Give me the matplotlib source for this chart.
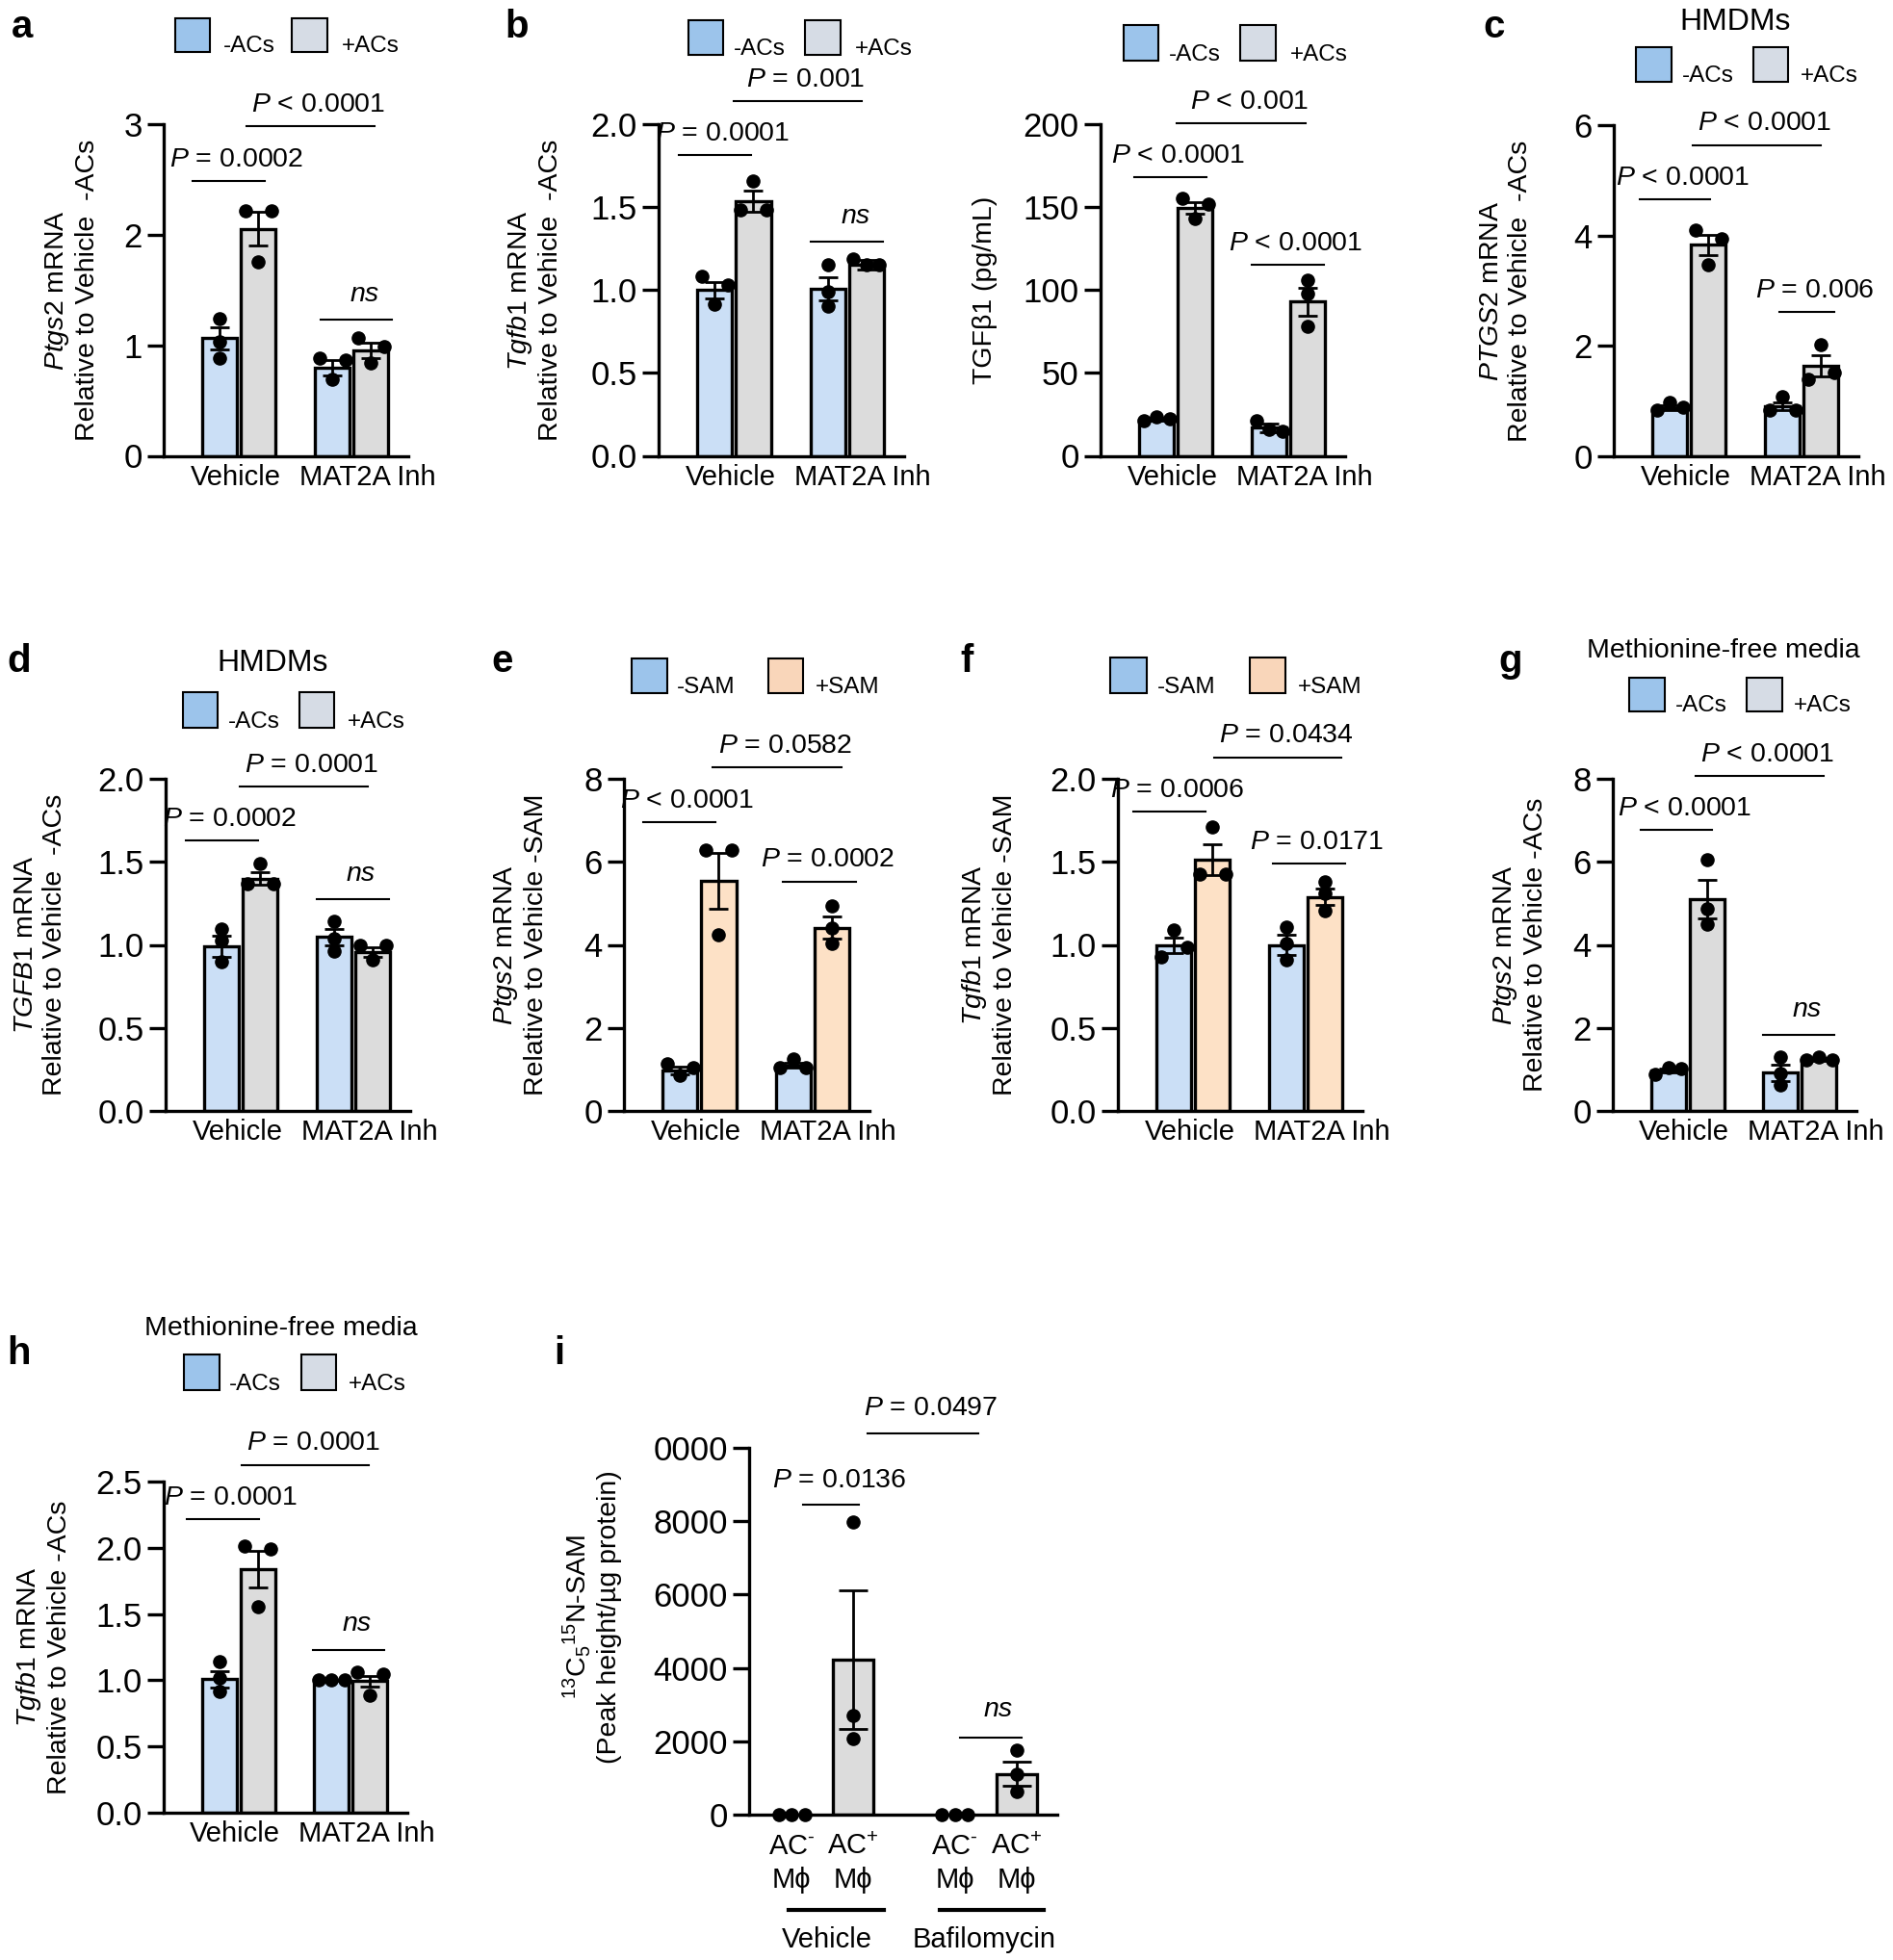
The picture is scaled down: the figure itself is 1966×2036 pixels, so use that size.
# coding=utf-8
"""
Bar charts (mean +- SEM with single points) for the MAT2A / SAM figure.
"""

import numpy as np
import matplotlib
matplotlib.use('Agg')
import matplotlib.pyplot as plt
from matplotlib.patches import Rectangle
from matplotlib import transforms

# Fuentes
plt.rcParams['font.family'] = ['Liberation Sans', 'DejaVu Sans']
plt.rcParams['mathtext.fontset'] = 'custom'
plt.rcParams['mathtext.rm'] = 'Liberation Sans'
plt.rcParams['mathtext.it'] = 'Liberation Sans:italic'
plt.rcParams['mathtext.bf'] = 'Liberation Sans:bold'

# ---------------------------------------------------------------- data
groups = ['Vehicle', 'MAT2A Inh']
acs_labels = ['-ACs', '+ACs']
sam_labels = ['-SAM', '+SAM']

# bar order: Vehicle (-), Vehicle (+), MAT2A Inh (-), MAT2A Inh (+)
a_mean = [1.065, 2.055, 0.795, 0.955]
a_sem = [0.10, 0.15, 0.07, 0.07]
a_pts = [[1.245, 1.035, 0.885], [2.22, 1.755, 2.22], [0.885, 0.69, 0.87], [1.065, 0.84, 0.985]]
a_p = ['= 0.0002', '< 0.0001', 'ns']

b_mean = [1.0, 1.535, 1.007, 1.153]
b_sem = [0.05, 0.065, 0.07, 0.03]
b_pts = [[1.083, 0.913, 1.033], [1.485, 1.659, 1.485], [1.15, 0.99, 0.90], [1.19, 1.15, 1.155]]
b_p = ['= 0.0001', '= 0.001', 'ns']

tgf_mean = [22, 149.4, 17, 93]
tgf_sem = [0.8, 3.5, 2.5, 8.5]
tgf_pts = [[21, 23.5, 22.6], [155.4, 143, 152], [21, 16, 15], [106, 98, 78]]
tgf_p = ['< 0.0001', '< 0.001', '< 0.0001']

c_mean = [0.876, 3.83, 0.90, 1.64]
c_sem = [0.045, 0.19, 0.07, 0.19]
c_pts = [[0.83, 0.98, 0.89], [4.10, 3.47, 3.94], [0.83, 1.08, 0.83], [1.40, 2.03, 1.52]]
c_p = ['< 0.0001', '< 0.0001', '= 0.006']

d_mean = [0.99, 1.40, 1.047, 0.957]
d_sem = [0.065, 0.035, 0.05, 0.03]
d_pts = [[1.094, 1.026, 0.90], [1.368, 1.488, 1.368], [1.14, 1.036, 0.964], [0.999, 0.912, 0.999]]
d_p = ['= 0.0002', '= 0.0001', 'ns']

e_mean = [0.977, 5.55, 1.10, 4.41]
e_sem = [0.09, 0.67, 0.06, 0.27]
e_pts = [[1.14, 0.85, 1.04], [6.28, 4.25, 6.28], [1.05, 1.25, 1.05], [4.95, 4.41, 4.04]]
e_p = ['< 0.0001', '= 0.0582', '= 0.0002']

f_mean = [0.997, 1.513, 1.0, 1.288]
f_sem = [0.045, 0.095, 0.06, 0.05]
f_pts = [[0.927, 1.087, 0.987], [1.424, 1.713, 1.424], [1.107, 1.007, 0.91], [1.378, 1.308, 1.208]]
f_p = ['= 0.0006', '= 0.0434', '= 0.0171']

g_mean = [0.97, 5.10, 0.92, 1.24]
g_sem = [0.05, 0.47, 0.20, 0.03]
g_pts = [[0.88, 1.04, 1.02], [6.06, 4.88, 4.50], [1.29, 0.91, 0.63], [1.22, 1.29, 1.22]]
g_p = ['< 0.0001', '< 0.0001', 'ns']

h_mean = [1.008, 1.84, 1.0, 0.995]
h_sem = [0.06, 0.14, 0.005, 0.04]
h_pts = [[1.142, 1.016, 0.914], [2.016, 1.554, 1.99], [1.0, 1.0, 1.0], [1.06, 0.89, 1.05]]
h_p = ['= 0.0001', '= 0.0001', 'ns']

i_labels = ['AC$^{\\text{-}}$\nM\u03d5', 'AC$^{+}$\nM\u03d5',
            'AC$^{\\text{-}}$\nM\u03d5', 'AC$^{+}$\nM\u03d5']
i_groups = ['Vehicle', 'Bafilomycin']
i_mean = [0, 4226, 0, 1109]
i_sem = [0, 1877, 0, 330]
i_pts = [[0, 0, 0], [7991, 2700, 2086], [0, 0, 0], [1756, 1098, 637]]
i_p = ['= 0.0136', '= 0.0497', 'ns']

# ---------------------------------------------------------------- style
BLUE, GRAY, PEACH = '#cbdff6', '#dcdcdc', '#fde1c6'
LEG_BLUE, LEG_GRAY, LEG_PEACH = '#9cc4eb', '#d6dce5', '#f9d6ba'
FS = 20.5
TICK_FS = 25
W, H = 1966, 2036

fig = plt.figure(figsize=(W / 100, H / 100), dpi=100)
ov = fig.add_axes([0, 0, 1, 1])
ov.set_xlim(0, W)
ov.set_ylim(H, 0)
ov.axis('off')


def spread(ax, vals, diam=13.5):
    """Horizontal offsets (data units) for points that overlap."""
    ys = ax.transData.transform(np.column_stack([np.zeros(len(vals)), vals]))[:, 1]
    order = np.argsort(ys, kind='stable')
    clusters = [[order[0]]]
    for k in order[1:]:
        if ys[k] - ys[clusters[-1][-1]] < 0.8 * diam:
            clusters[-1].append(k)
        else:
            clusters.append([k])
    slots = {1: [0], 2: [-1, 1], 3: [-1, 0, 1]}
    offs = np.zeros(len(vals))
    for cl in clusters:
        for n, k in enumerate(sorted(cl)):
            offs[k] = slots[len(cl)][n] * diam
    unit = ax.transData.transform((1, 0))[0] - ax.transData.transform((0, 0))[0]
    return offs / unit


def new_axes(x0, x1, ytop, y0):
    ax = fig.add_axes([x0 / W, 1 - y0 / H, (x1 - x0) / W, (y0 - ytop) / H])
    for s in ['top', 'right']:
        ax.spines[s].set_visible(False)
    for s in ['left', 'bottom']:
        ax.spines[s].set_linewidth(2.4)
    ax.tick_params(axis='y', length=12, width=2.4, labelsize=TICK_FS, pad=4)
    ax.tick_params(axis='x', length=0, labelsize=21, pad=6)
    ax.patch.set_alpha(0)
    return ax


def draw_bars(ax, xs, width, means, sems, pts, colors, capsize=7):
    for x, m, s, p, c in zip(xs, means, sems, pts, colors):
        if m > 0:
            ax.bar(x, m, width=width, color=c, edgecolor='black', linewidth=2.4, zorder=2)
            ax.errorbar(x, m, yerr=s, color='black', elinewidth=2.0, capsize=capsize,
                        capthick=2.0, zorder=3)
        ax.plot(x + spread(ax, p), p, 'o', ms=9.5, color='black', zorder=4, clip_on=False)


def brackets(ax, geo, labels, dy=11):
    for (x0, x1, y), lab in zip(geo, labels):
        ax.plot([x0, x1], [y, y], color='black', lw=1.5, clip_on=False)
        if lab == 'ns':
            txt, style, off = 'ns', 'italic', dy + 3
        else:
            txt, style, off = r'$\mathit{P}$ ' + lab, 'normal', dy
        ax.annotate(txt, xy=((x0 + x1) / 2, y), xytext=(6, off), textcoords='offset points',
                    ha='center', va='baseline', fontsize=FS, fontstyle=style,
                    annotation_clip=False)


def legend(y0, y1, boxes, texts, labels, colors):
    for (bx0, bx1), tx, lab, col in zip(boxes, texts, labels, colors):
        ov.add_patch(Rectangle((bx0, y0), bx1 - bx0, y1 - y0, facecolor=col,
                               edgecolor='black', lw=1.5))
        ov.text(tx, y1, lab, fontsize=17.5, ha='left', va='baseline')


def ylabel(x, y, text):
    ov.text(x, y, text, rotation=90, ha='center', va='center', multialignment='center',
            fontsize=20.5, linespacing=1.2)


def grouped(box, ymax, ticks, fmt, means, sems, pts, colors, geo, plabels, ylab, ylab_x):
    x0, x1, ytop, y0 = box
    ax = new_axes(x0, x1, ytop, y0)
    ax.set_xlim(-0.667, 1.504)
    ax.set_ylim(0, ymax)
    ax.set_yticks(ticks)
    ax.set_yticklabels([fmt.format(t) for t in ticks])
    ax.set_xticks([-0.03, 1.14])
    ax.set_xticklabels(groups)
    draw_bars(ax, [-0.171, 0.171, 0.829, 1.171], 0.31, means, sems, pts, colors)
    brackets(ax, geo, plabels)
    ylabel(ylab_x, (ytop + y0) / 2, ylab)
    return ax


acs_cols = [BLUE, GRAY, BLUE, GRAY]
sam_cols = [BLUE, PEACH, BLUE, PEACH]
rel_acs = 'Relative to Vehicle  -ACs'

# ---------------------------------------------------------------- row 1
grouped((170, 424, 129, 473.5), 3, [0, 1, 2, 3], '{:g}', a_mean, a_sem, a_pts, acs_cols,
        [(-0.41, 0.23, 2.486), (0.07, 1.205, 2.98), (0.73, 1.36, 1.232)], a_p,
        '$\\mathit{Ptgs2}$ mRNA\n' + rel_acs, 75)
grouped((684, 939, 129, 473.5), 2, [0, 0.5, 1, 1.5, 2], '{:.1f}', b_mean, b_sem, b_pts,
        acs_cols, [(-0.49, 0.15, 1.815), (0.0, 1.13, 2.14), (0.68, 1.32, 1.29)], b_p,
        '$\\mathit{Tgfb1}$ mRNA\n' + rel_acs, 555)
grouped((1143, 1397, 129, 473.5), 200, [0, 50, 100, 150, 200], '{:g}', tgf_mean, tgf_sem,
        tgf_pts, acs_cols, [(-0.37, 0.27, 168), (0.01, 1.15, 200.4), (0.675, 1.32, 115)],
        tgf_p, 'TGF\u03b21 (pg/mL)', 1023)
grouped((1676, 1930, 130, 474), 6, [0, 2, 4, 6], '{:g}', c_mean, c_sem, c_pts, acs_cols,
        [(-0.44, 0.19, 4.65), (0.03, 1.17, 5.64), (0.80, 1.29, 2.61)], c_p,
        '$\\mathit{PTGS2}$ mRNA\n' + rel_acs, 1564)

# ---------------------------------------------------------------- row 2
grouped((172, 426, 809, 1154), 2, [0, 0.5, 1, 1.5, 2], '{:.1f}', d_mean, d_sem, d_pts,
        acs_cols, [(-0.49, 0.15, 1.627), (-0.01, 1.13, 1.954), (0.675, 1.32, 1.275)], d_p,
        '$\\mathit{TGFB1}$ mRNA\n' + rel_acs, 42)
grouped((648, 903, 809, 1154), 8, [0, 2, 4, 6, 8], '{:g}', e_mean, e_sem, e_pts, sam_cols,
        [(-0.50, 0.145, 6.955), (0.12, 1.26, 8.28), (0.74, 1.385, 5.53)], e_p,
        '$\\mathit{Ptgs2}$ mRNA\nRelative to Vehicle -SAM', 540)
grouped((1161, 1415, 809, 1154), 2, [0, 0.5, 1, 1.5, 2], '{:.1f}', f_mean, f_sem, f_pts,
        sam_cols, [(-0.53, 0.11, 1.803), (0.19, 1.32, 2.13), (0.71, 1.35, 1.488)], f_p,
        '$\\mathit{Tgfb1}$ mRNA\nRelative to Vehicle -SAM', 1027)
grouped((1675, 1928, 809, 1154), 8, [0, 2, 4, 6, 8], '{:g}', g_mean, g_sem, g_pts, acs_cols,
        [(-0.42, 0.22, 6.76), (0.07, 1.21, 8.06), (0.67, 1.31, 1.83)], g_p,
        '$\\mathit{Ptgs2}$ mRNA\nRelative to Vehicle -ACs', 1579)

# ---------------------------------------------------------------- row 3
grouped((170, 423, 1539, 1883), 2.5, [0, 0.5, 1, 1.5, 2, 2.5], '{:.1f}', h_mean, h_sem, h_pts,
        acs_cols, [(-0.46, 0.18, 2.218), (0.03, 1.16, 2.626), (0.66, 1.30, 1.231)], h_p,
        '$\\mathit{Tgfb1}$ mRNA\nRelative to Vehicle -ACs', 45)

# panel i
ax = new_axes(778, 1098, 1504, 1885)
ax.set_xlim(-0.6875, 4.3125)
ax.set_ylim(0, 10000)
ax.set_yticks([0, 2000, 4000, 6000, 8000, 10000])
ax.set_yticklabels(['0', '2000', '4000', '6000', '8000', '0000'])
ipos = [0, 1, 2.65, 3.65]
ax.set_xticks(ipos)
ax.set_xticklabels(i_labels, linespacing=1.3)
ax.tick_params(axis='x', pad=14)
draw_bars(ax, ipos, 0.656, i_mean, i_sem, i_pts, [GRAY] * 4, capsize=11)
brackets(ax, [(0.19, 1.09, 8463), (1.23, 3.03, 10406), (2.73, 3.73, 2097)], i_p, dy=13)
bt = transforms.blended_transform_factory(ax.transData, ax.transAxes)
for (u0, u1), xc, lab in zip([(-0.05, 1.5), (2.4, 4.1)], [0.58, 3.125], i_groups):
    ax.plot([u0, u1], [-0.26, -0.26], color='black', lw=3, transform=bt, clip_on=False)
    ax.text(xc, -0.34, lab, transform=bt, ha='center', va='center', fontsize=21)
ylabel(614, 1680, '$^{13}$C$_{5}$$^{15}$N-SAM\n(Peak height/\u00b5g protein)')

# ---------------------------------------------------------------- legends, titles, letters
legend(19, 54, [(182, 218), (303, 340)], [232, 355], acs_labels, [LEG_BLUE, LEG_GRAY])
legend(21, 57, [(715, 751), (836, 873)], [762, 888], acs_labels, [LEG_BLUE, LEG_GRAY])
legend(26, 63, [(1167, 1203), (1288, 1325)], [1214, 1340], acs_labels, [LEG_BLUE, LEG_GRAY])
legend(49, 85, [(1699, 1736), (1821, 1857)], [1747, 1870], acs_labels, [LEG_BLUE, LEG_GRAY])
legend(719, 756, [(190, 226), (311, 347)], [237, 361], acs_labels, [LEG_BLUE, LEG_GRAY])
legend(684, 720, [(656, 693), (798, 834)], [703, 847], sam_labels, [LEG_BLUE, LEG_PEACH])
legend(683, 720, [(1153, 1191), (1298, 1335)], [1202, 1348], sam_labels, [LEG_BLUE, LEG_PEACH])
legend(704, 739, [(1692, 1729), (1814, 1851)], [1740, 1863], acs_labels, [LEG_BLUE, LEG_GRAY])
legend(1407, 1444, [(191, 228), (313, 349)], [238, 362], acs_labels, [LEG_BLUE, LEG_GRAY])

ov.text(1802, 31, 'HMDMs', fontsize=23, ha='center', va='baseline')
ov.text(283, 697, 'HMDMs', fontsize=23, ha='center', va='baseline')
ov.text(1790, 683, 'Methionine-free media', fontsize=20.5, ha='center', va='baseline')
ov.text(292, 1387, 'Methionine-free media', fontsize=20.5, ha='center', va='baseline')

for lt, x, y in [('a', 23, 39), ('b', 537, 39), ('c', 1552, 39), ('d', 20, 698),
                 ('e', 522, 698), ('f', 1004, 698), ('g', 1569, 698), ('h', 19, 1417),
                 ('i', 581, 1417)]:
    ov.text(x, y, lt, fontsize=29, fontweight='bold', ha='center', va='baseline')

fig.savefig('out.png', dpi=100)
